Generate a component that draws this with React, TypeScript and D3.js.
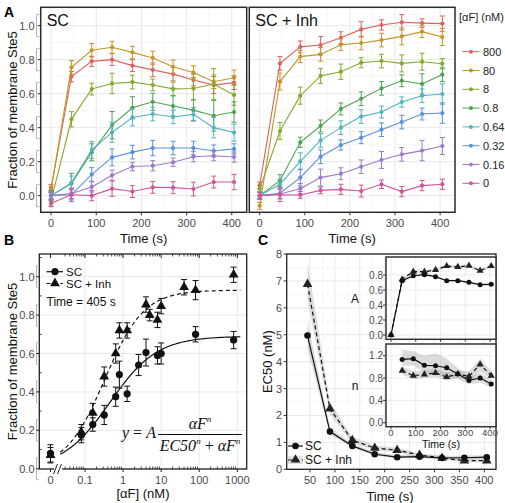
import React from 'react';
import * as d3 from 'd3';

const FONT = "'Liberation Sans', Arial, Helvetica, sans-serif";
const SERIF = "'Liberation Serif', 'Times New Roman', serif";

// ---------- Panel A data ----------
const TIMES = [0, 45, 90, 135, 180, 225, 270, 315, 360, 405];
const DOSE_LABELS = ['800', '80', '8', '0.8', '0.64', '0.32', '0.16', '0'];
const DOSE_COLORS = ['#DB625E', '#C4962A', '#86A92C', '#4EA353', '#52B2BE', '#5A90DA', '#9B7BC9', '#CF559A'];

// SC facet
const SC_800 = [0.045, 0.70, 0.79, 0.80, 0.765, 0.74, 0.715, 0.68, 0.65, 0.665];
const SC_80 = [0.035, 0.755, 0.855, 0.873, 0.843, 0.81, 0.758, 0.724, 0.67, 0.694];
const SC_8 = [-0.03, 0.449, 0.627, 0.66, 0.668, 0.651, 0.628, 0.63, 0.657, 0.592];
const SC_0_8 = [0, 0.071, 0.255, 0.415, 0.517, 0.552, 0.527, 0.503, 0.47, 0.492];
const SC_0_64 = [0, 0.075, 0.269, 0.372, 0.46, 0.48, 0.463, 0.478, 0.40, 0.371];
const SC_0_32 = [0, 0.005, 0.125, 0.225, 0.256, 0.28, 0.28, 0.28, 0.263, 0.275];
const SC_0_16 = [0, 0.013, 0.051, 0.12, 0.171, 0.176, 0.196, 0.229, 0.235, 0.227];
const SC_0 = [-0.045, 0.005, 0.0, 0.041, 0.024, 0.049, 0.047, 0.039, 0.08, 0.08];

const SC_800_ERR = [0.02, 0.03, 0.03, 0.035, 0.035, 0.04, 0.04, 0.035, 0.05, 0.04];
const SC_80_ERR = [0.02, 0.04, 0.04, 0.035, 0.035, 0.04, 0.04, 0.04, 0.04, 0.045];
const SC_8_ERR = [0.03, 0.045, 0.035, 0.06, 0.04, 0.035, 0.04, 0.065, 0.09, 0.06];
const SC_0_8_ERR = [0.03, 0.06, 0.05, 0.08, 0.065, 0.05, 0.06, 0.06, 0.09, 0.06];
const SC_0_64_ERR = [0.02, 0.04, 0.05, 0.06, 0.05, 0.04, 0.04, 0.04, 0.06, 0.05];
const SC_0_32_ERR = [0.02, 0.04, 0.04, 0.05, 0.04, 0.045, 0.04, 0.04, 0.035, 0.03];
const SC_0_16_ERR = [0.02, 0.03, 0.03, 0.03, 0.025, 0.03, 0.025, 0.03, 0.03, 0.03];
const SC_0_ERR = [0.02, 0.03, 0.03, 0.045, 0.035, 0.035, 0.035, 0.04, 0.035, 0.045];

// SC + Inh facet
const INH_800 = [0.06, 0.778, 0.875, 0.886, 0.929, 0.978, 1.004, 1.02, 1.015, 1.012];
const INH_80 = [-0.06, 0.671, 0.818, 0.831, 0.888, 0.898, 0.915, 0.937, 0.965, 0.933];
const INH_8 = [0.04, 0.38, 0.588, 0.704, 0.729, 0.782, 0.792, 0.778, 0.788, 0.776];
const INH_0_8 = [0, 0.088, 0.314, 0.41, 0.51, 0.57, 0.631, 0.676, 0.657, 0.712];
const INH_0_64 = [0, 0.067, 0.202, 0.325, 0.40, 0.465, 0.492, 0.551, 0.588, 0.598];
const INH_0_32 = [0, 0.014, 0.106, 0.229, 0.298, 0.341, 0.388, 0.433, 0.48, 0.486];
const INH_0_16 = [0, 0.01, 0.041, 0.106, 0.129, 0.17, 0.21, 0.243, 0.265, 0.292];
const INH_0 = [0, 0.005, 0.004, 0.031, 0.037, 0.027, 0.067, 0.024, 0.059, 0.067];

const INH_800_ERR = [0.02, 0.04, 0.035, 0.05, 0.035, 0.045, 0.03, 0.045, 0.025, 0.045];
const INH_80_ERR = [0.02, 0.05, 0.035, 0.04, 0.035, 0.04, 0.04, 0.05, 0.035, 0.05];
const INH_8_ERR = [0.02, 0.05, 0.05, 0.045, 0.045, 0.03, 0.04, 0.05, 0.05, 0.03];
const INH_0_8_ERR = [0.02, 0.035, 0.03, 0.035, 0.035, 0.04, 0.04, 0.035, 0.06, 0.04];
const INH_0_64_ERR = [0.02, 0.03, 0.05, 0.04, 0.04, 0.04, 0.035, 0.03, 0.04, 0.06];
const INH_0_32_ERR = [0.02, 0.03, 0.05, 0.04, 0.03, 0.035, 0.04, 0.04, 0.035, 0.06];
const INH_0_16_ERR = [0.02, 0.03, 0.03, 0.05, 0.035, 0.04, 0.05, 0.04, 0.06, 0.05];
const INH_0_ERR = [0.02, 0.04, 0.02, 0.02, 0.03, 0.035, 0.025, 0.03, 0.03, 0.03];

const A_TICKS_X = [0, 100, 200, 300, 400];
const A_TICKS_Y = [0, 0.2, 0.4, 0.6, 0.8, 1.0];

// ---------- Panel B data ----------
const B_SC_CONC = [0, 0.08, 0.16, 0.32, 0.64, 0.8, 1.28, 2.56, 4, 8, 10, 80, 800];
const B_SC_VAL = [0.08, 0.175, 0.23, 0.28, 0.375, 0.49, 0.39, 0.54, 0.605, 0.59, 0.60, 0.70, 0.67];
const B_SC_ERR = [0.045, 0.04, 0.035, 0.05, 0.05, 0.07, 0.04, 0.055, 0.07, 0.045, 0.055, 0.04, 0.045];
const B_INH_CONC = [0, 0.08, 0.16, 0.32, 0.64, 0.8, 1.28, 4, 5, 8, 10, 40, 80, 800];
const B_INH_VAL = [0.07, 0.19, 0.29, 0.48, 0.60, 0.72, 0.72, 0.855, 0.80, 0.775, 0.847, 0.945, 0.93, 1.01];
const B_INH_ERR = [0.04, 0.04, 0.05, 0.05, 0.05, 0.04, 0.04, 0.04, 0.03, 0.04, 0.04, 0.04, 0.05, 0.04];
// Hill fit parameters (A, EC50, n) at 405 s
const FIT_SC = [0.69, 0.45, 0.7];
const FIT_INH = [0.93, 0.33, 0.85];
const B_TICKS_X = [0.1, 1, 10, 100, 1000];
const B_TICK_LABELS_X = ['0.1', '1', '10', '100', '1000'];
const B_TICKS_Y = [0, 0.2, 0.4, 0.6, 0.8, 1.0];

// ---------- Panel C data ----------
const C_TIMES = [45, 90, 135, 180, 225, 270, 315, 360, 405];
const EC50_SC = [4.97, 1.4, 0.87, 0.56, 0.45, 0.47, 0.42, 0.43, 0.45];
const EC50_SC_LO = [4.5, 1.28, 0.8, 0.5, 0.4, 0.41, 0.37, 0.37, 0.38];
const EC50_SC_HI = [5.5, 1.55, 0.95, 0.63, 0.52, 0.55, 0.48, 0.5, 0.52];
const EC50_INH = [6.88, 2.25, 1.08, 0.79, 0.71, 0.53, 0.42, 0.32, 0.32];
const EC50_INH_LO = [6.3, 2.05, 0.97, 0.71, 0.63, 0.46, 0.36, 0.26, 0.26];
const EC50_INH_HI = [7.7, 2.5, 1.2, 0.88, 0.8, 0.6, 0.5, 0.4, 0.4];
const C_TICKS_X = [50, 100, 150, 200, 250, 300, 350, 400];
const C_TICKS_Y = [0, 1, 2, 3, 4, 5, 6, 7, 8];

const A_SC = [0, 0.724, 0.79, 0.804, 0.778, 0.724, 0.724, 0.702, 0.671, 0.676];
const A_SC_LO = [0, 0.71, 0.775, 0.79, 0.765, 0.712, 0.712, 0.69, 0.66, 0.664];
const A_SC_HI = [0, 0.738, 0.805, 0.818, 0.791, 0.736, 0.736, 0.714, 0.682, 0.688];
const A_INH = [0, 0.742, 0.844, 0.844, 0.867, 0.92, 0.907, 0.924, 0.858, 0.92];
const A_INH_LO = [0, 0.725, 0.825, 0.825, 0.848, 0.9, 0.888, 0.905, 0.838, 0.9];
const A_INH_HI = [0, 0.76, 0.863, 0.863, 0.886, 0.94, 0.926, 0.943, 0.878, 0.94];

const N_SC = [1.134, 1.146, 1.027, 1.02, 0.985, 0.872, 0.758, 0.80, 0.693];
const N_SC_LO = [1.02, 1.03, 0.9, 0.86, 0.83, 0.78, 0.69, 0.72, 0.63];
const N_SC_HI = [1.3, 1.28, 1.2, 1.24, 1.15, 0.98, 0.83, 0.89, 0.76];
const N_INH = [0.931, 0.842, 0.866, 0.89, 0.818, 0.872, 0.83, 1.045, 0.842];
const N_INH_LO = [0.86, 0.78, 0.8, 0.82, 0.75, 0.8, 0.74, 0.92, 0.78];
const N_INH_HI = [1.0, 0.92, 0.94, 0.96, 0.9, 0.94, 0.92, 1.15, 0.92];

const INSET_TICKS_X = [0, 100, 200, 300, 400];
const INSET_A_TICKS_Y = [0, 0.2, 0.4, 0.6, 0.8];
const INSET_N_TICKS_Y = [0, 0.4, 0.8, 1.2];

const SC_SERIES = [SC_800, SC_80, SC_8, SC_0_8, SC_0_64, SC_0_32, SC_0_16, SC_0];
const SC_ERRS = [SC_800_ERR, SC_80_ERR, SC_8_ERR, SC_0_8_ERR, SC_0_64_ERR, SC_0_32_ERR, SC_0_16_ERR, SC_0_ERR];
const INH_SERIES = [INH_800, INH_80, INH_8, INH_0_8, INH_0_64, INH_0_32, INH_0_16, INH_0];
const INH_ERRS = [INH_800_ERR, INH_80_ERR, INH_8_ERR, INH_0_8_ERR, INH_0_64_ERR, INH_0_32_ERR, INH_0_16_ERR, INH_0_ERR];

const GRID_MAJOR = '#e6e6e6';
const GRID_MINOR = '#f2f2f2';
const AXIS_TEXT = '#4a4a4a';

const fmt1 = (v: number) => v.toFixed(1);

function tri(size: number) {
  return d3.symbol(d3.symbolTriangle, size)() as string;
}

// ---------------- Panel A facet ----------------
function FacetA(props: { x0: number; x1: number; title: string; series: number[][]; errs: number[][]; showY: boolean }) {
  const { x0, x1, title, series, errs, showY } = props;
  const top = 7.3, bottom = 212.3;
  const x = d3.scaleLinear().domain([-23, 433]).range([x0, x1]);
  const y = d3.scaleLinear().domain([-0.098, 1.108]).range([bottom, top]);
  const line = d3.line<number>().x((_, i) => x(TIMES[i])).y((d) => y(d));
  const minorX = [50, 150, 250, 350];
  const minorY = [0.1, 0.3, 0.5, 0.7, 0.9];
  return (
    <g>
      <rect x={x0} y={top} width={x1 - x0} height={bottom - top} fill="#fff" />
      {minorX.map((t) => <line key={'mx' + t} x1={x(t)} x2={x(t)} y1={top} y2={bottom} stroke={GRID_MINOR} strokeWidth={0.6} />)}
      {minorY.map((t) => <line key={'my' + t} x1={x0} x2={x1} y1={y(t)} y2={y(t)} stroke={GRID_MINOR} strokeWidth={0.6} />)}
      {A_TICKS_X.map((t) => <line key={'gx' + t} x1={x(t)} x2={x(t)} y1={top} y2={bottom} stroke={GRID_MAJOR} strokeWidth={0.9} />)}
      {A_TICKS_Y.map((t) => <line key={'gy' + t} x1={x0} x2={x1} y1={y(t)} y2={y(t)} stroke={GRID_MAJOR} strokeWidth={0.9} />)}
      {series.map((s, k) => (
        <g key={'s' + k}>
          <path d={line(s) as string} fill="none" stroke={DOSE_COLORS[k]} strokeWidth={1.1} />
          {s.map((v, i) => {
            const e = errs[k][i];
            const cx = x(TIMES[i]);
            return (
              <g key={i}>
                <line x1={cx} x2={cx} y1={y(v - e)} y2={y(v + e)} stroke={DOSE_COLORS[k]} strokeWidth={1} />
                <line x1={cx - 2.5} x2={cx + 2.5} y1={y(v - e)} y2={y(v - e)} stroke={DOSE_COLORS[k]} strokeWidth={1} />
                <line x1={cx - 2.5} x2={cx + 2.5} y1={y(v + e)} y2={y(v + e)} stroke={DOSE_COLORS[k]} strokeWidth={1} />
                <circle cx={cx} cy={y(v)} r={2.1} fill={DOSE_COLORS[k]} />
              </g>
            );
          })}
        </g>
      ))}
      <text x={x0 + 6} y={26} fontSize={16} fontFamily={FONT} fill="#111">{title}</text>
      <rect x={x0} y={top} width={x1 - x0} height={bottom - top} fill="none" stroke="#2b2b2b" strokeWidth={1.5} />
      {A_TICKS_X.map((t) => (
        <g key={'tx' + t}>
          <line x1={x(t)} x2={x(t)} y1={bottom} y2={bottom + 3} stroke="#333" strokeWidth={1} />
          <text x={x(t)} y={bottom + 15} fontSize={11} textAnchor="middle" fontFamily={FONT} fill={AXIS_TEXT}>{t}</text>
        </g>
      ))}
      <text x={(x0 + x1) / 2} y={243} fontSize={13} textAnchor="middle" fontFamily={FONT} fill="#111">Time (s)</text>
      {showY && A_TICKS_Y.map((t) => (
        <g key={'ty' + t}>
          <line x1={36.5} x2={36.5} y1={y(t) - 11} y2={y(t) + 11} stroke="#b5b5b5" strokeWidth={1} />
          <line x1={36.5} x2={39.5} y1={y(t) - 11} y2={y(t) - 11} stroke="#b5b5b5" strokeWidth={1} />
          <line x1={36.5} x2={39.5} y1={y(t) + 11} y2={y(t) + 11} stroke="#b5b5b5" strokeWidth={1} />
          <line x1={x0 - 3} x2={x0} y1={y(t)} y2={y(t)} stroke="#333" strokeWidth={1} />
          <text x={34.5} y={y(t) + 4} fontSize={11} textAnchor="end" fontFamily={FONT} fill={AXIS_TEXT}>{fmt1(t)}</text>
        </g>
      ))}
    </g>
  );
}

function LegendA() {
  const y0 = 51.7, dy = 18.8;
  return (
    <g fontFamily={FONT}>
      <text x={459} y={21} fontSize={11} fill="#222">[αF] (nM)</text>
      {DOSE_LABELS.map((lab, k) => (
        <g key={lab}>
          <line x1={462.5} x2={479.5} y1={y0 + k * dy} y2={y0 + k * dy} stroke={DOSE_COLORS[k]} strokeWidth={1} />
          <circle cx={471} cy={y0 + k * dy} r={2} fill={DOSE_COLORS[k]} />
          <text x={483} y={y0 + k * dy + 4} fontSize={11} fill="#222">{lab}</text>
        </g>
      ))}
    </g>
  );
}

// ---------------- Panel B ----------------
function PanelB() {
  const left = 39.3, right = 246.7, top = 254, bottom = 469;
  const xl = d3.scaleLog().domain([0.1, 1000]).range([85, 237.3]);
  const xZero = 50.5;
  const xp = (c: number) => (c === 0 ? xZero : xl(c));
  const y = d3.scaleLinear().domain([0, 1]).range([468.7, 276.7]);
  const hill = (p: number[]) => (c: number) => (p[0] * Math.pow(c, p[2])) / (Math.pow(p[1], p[2]) + Math.pow(c, p[2]));
  const fitX = d3.range(0, 101).map((i) => Math.pow(10, -1.65 + (i / 100) * (3.08 + 1.65)));
  const fitLine = (p: number[]) => d3.line<number>().x((c) => xl(c)).y((c) => y(hill(p)(c)))(fitX) as string;
  const minorLog: number[] = [];
  for (let d = -2; d <= 2; d++) for (let k = 2; k <= 9; k++) {
    const v = k * Math.pow(10, d);
    if (xl(v) > 64 && xl(v) < right) minorLog.push(v);
  }
  const minorY = [0.1, 0.3, 0.5, 0.7, 0.9, 1.1];
  const errBar = (cx: number, v: number, e: number, key: string) => (
    <g key={key}>
      <line x1={cx} x2={cx} y1={y(v - e)} y2={y(v + e)} stroke="#111" strokeWidth={1} />
      <line x1={cx - 3} x2={cx + 3} y1={y(v - e)} y2={y(v - e)} stroke="#111" strokeWidth={1} />
      <line x1={cx - 3} x2={cx + 3} y1={y(v + e)} y2={y(v + e)} stroke="#111" strokeWidth={1} />
    </g>
  );
  return (
    <g fontFamily={FONT}>
      <rect x={left} y={top} width={right - left} height={bottom - top} fill="#fff" />
      {B_TICKS_X.map((t) => <line key={'gx' + t} x1={xl(t)} x2={xl(t)} y1={top} y2={bottom} stroke={GRID_MAJOR} strokeWidth={0.9} />)}
      {B_TICKS_Y.map((t) => <line key={'gy' + t} x1={left} x2={right} y1={y(t)} y2={y(t)} stroke={GRID_MAJOR} strokeWidth={0.9} />)}
      <path d={fitLine(FIT_INH)} fill="none" stroke="#111" strokeWidth={1.2} strokeDasharray="4,3" />
      <path d={fitLine(FIT_SC)} fill="none" stroke="#111" strokeWidth={1.2} />
      {B_INH_CONC.map((c, i) => errBar(xp(c), B_INH_VAL[i], B_INH_ERR[i], 'ei' + i))}
      {B_INH_CONC.map((c, i) => (
        <path key={'ti' + i} d={tri(42)} transform={`translate(${xp(c)},${y(B_INH_VAL[i])})`} fill="#111" />
      ))}
      {B_SC_CONC.map((c, i) => errBar(xp(c), B_SC_VAL[i], B_SC_ERR[i], 'es' + i))}
      {B_SC_CONC.map((c, i) => (
        <circle key={'cs' + i} cx={xp(c)} cy={y(B_SC_VAL[i])} r={3.6} fill="#111" />
      ))}
      <rect x={left} y={top} width={right - left} height={bottom - top} fill="none" stroke="#222" strokeWidth={1.3} />
      {minorLog.map((v) => (
        <g key={'ml' + v}>
          <line x1={xl(v)} x2={xl(v)} y1={bottom} y2={bottom - 2.5} stroke="#222" strokeWidth={0.8} />
          <line x1={xl(v)} x2={xl(v)} y1={top} y2={top + 2.5} stroke="#222" strokeWidth={0.8} />
        </g>
      ))}
      {[0, ...B_TICKS_X].map((t) => (
        <g key={'mt' + t}>
          <line x1={xp(t)} x2={xp(t)} y1={bottom} y2={bottom + 3} stroke="#222" strokeWidth={1} />
          <line x1={xp(t)} x2={xp(t)} y1={top} y2={top + 4} stroke="#222" strokeWidth={1} />
        </g>
      ))}
      {minorY.map((t) => (
        <line key={'mny' + t} x1={left} x2={left + 2.5} y1={y(t)} y2={y(t)} stroke="#222" strokeWidth={0.8} />
      ))}
      <rect x={54} y={466} width={8} height={6} fill="#fff" />
      <line x1={53.5} y1={474} x2={57.5} y2={464} stroke="#222" strokeWidth={1} />
      <line x1={57.5} y1={474} x2={61.5} y2={464} stroke="#222" strokeWidth={1} />
      <text x={xZero} y={484} fontSize={11} textAnchor="middle" fill={AXIS_TEXT}>0</text>
      {B_TICKS_X.map((t, i) => (
        <text key={'lx' + t} x={xl(t)} y={484} fontSize={11} textAnchor="middle" fill={AXIS_TEXT}>{B_TICK_LABELS_X[i]}</text>
      ))}
      {B_TICKS_Y.map((t) => (
        <g key={'ly' + t}>
          <line x1={36.5} x2={36.5} y1={y(t) - 11} y2={y(t) + 11} stroke="#b5b5b5" strokeWidth={1} />
          <line x1={36.5} x2={39} y1={y(t) - 11} y2={y(t) - 11} stroke="#b5b5b5" strokeWidth={1} />
          <line x1={36.5} x2={39} y1={y(t) + 11} y2={y(t) + 11} stroke="#b5b5b5" strokeWidth={1} />
          <line x1={left - 3} x2={left} y1={y(t)} y2={y(t)} stroke="#222" strokeWidth={1} />
          <text x={34.5} y={y(t) + 4} fontSize={11} textAnchor="end" fill={AXIS_TEXT}>{fmt1(t)}</text>
        </g>
      ))}
      <text x={143} y={498} fontSize={13} textAnchor="middle" fill="#111">[αF] (nM)</text>
      <line x1={46.5} x2={63} y1={271.7} y2={271.7} stroke="#111" strokeWidth={1.2} />
      <circle cx={55} cy={271.7} r={3.6} fill="#111" />
      <text x={66} y={275.8} fontSize={11.5} fill="#111">SC</text>
      <line x1={46.5} x2={63} y1={283.5} y2={283.5} stroke="#111" strokeWidth={1.2} strokeDasharray="4,3" />
      <path d={tri(42)} transform="translate(55,283.3)" fill="#111" />
      <text x={66} y={287.6} fontSize={11.5} fill="#111">SC + Inh</text>
      <text x={46.5} y={305.5} fontSize={12} fill="#111">Time = 405 s</text>
      <text x={122} y={438} fontSize={16} fontFamily={SERIF} fill="#111">
        <tspan fontStyle="italic">y</tspan><tspan> = </tspan><tspan fontStyle="italic">A</tspan>
      </text>
      <text x={200} y={429} fontSize={16} fontFamily={SERIF} fontStyle="italic" textAnchor="middle" fill="#111">
        αF<tspan fontSize={9} dy={-7}>n</tspan>
      </text>
      <line x1={158} x2={242} y1={434.5} y2={434.5} stroke="#111" strokeWidth={1} />
      <text x={200} y={451} fontSize={16} fontFamily={SERIF} fontStyle="italic" textAnchor="middle" fill="#111">
        EC50<tspan fontSize={9} dy={-7}>n</tspan><tspan dy={7} fontStyle="normal"> + </tspan>αF<tspan fontSize={9} dy={-7}>n</tspan>
      </text>
    </g>
  );
}

// ---------------- Panel C ----------------
function Band(props: { xs: number[]; lo: number[]; hi: number[]; x: (v: number) => number; y: (v: number) => number }) {
  const { xs, lo, hi, x, y } = props;
  const area = d3.area<number>().x((_, i) => x(xs[i])).y0((_, i) => y(lo[i])).y1((_, i) => y(hi[i]));
  return <path d={area(xs) as string} fill="#9a9a9a" fillOpacity={0.35} stroke="none" />;
}

function SeriesC(props: { xs: number[]; vals: number[]; x: (v: number) => number; y: (v: number) => number; dashed: boolean; r: number; ts: number }) {
  const { xs, vals, x, y, dashed, r, ts } = props;
  const line = d3.line<number>().x((_, i) => x(xs[i])).y((d) => y(d));
  return (
    <g>
      <path d={line(vals) as string} fill="none" stroke="#111" strokeWidth={1.2} strokeDasharray={dashed ? '4,3' : undefined} />
      {vals.map((v, i) =>
        dashed ? (
          <path key={i} d={tri(ts)} transform={`translate(${x(xs[i])},${y(v)})`} fill="#222" />
        ) : (
          <circle key={i} cx={x(xs[i])} cy={y(v)} r={r} fill="#111" />
        )
      )}
    </g>
  );
}

function Inset(props: { top: number; bottom: number; yDom: number[]; yRange: number[]; ticks: number[]; label: string; showX: boolean; times: number[]; sc: number[]; scLo: number[]; scHi: number[]; inh: number[]; inhLo: number[]; inhHi: number[] }) {
  const p = props;
  const left = 386, right = 496;
  const x = d3.scaleLinear().domain([0, 400]).range([391, 490]);
  const y = d3.scaleLinear().domain(p.yDom).range(p.yRange);
  return (
    <g fontFamily={FONT}>
      <rect x={left} y={p.top} width={right - left} height={p.bottom - p.top} fill="#fff" />
      {INSET_TICKS_X.map((t) => <line key={'gx' + t} x1={x(t)} x2={x(t)} y1={p.top} y2={p.bottom} stroke={GRID_MAJOR} strokeWidth={0.8} />)}
      {p.ticks.map((t) => <line key={'gy' + t} x1={left} x2={right} y1={y(t)} y2={y(t)} stroke={GRID_MAJOR} strokeWidth={0.8} />)}
      <Band xs={p.times} lo={p.scLo} hi={p.scHi} x={x} y={y} />
      <Band xs={p.times} lo={p.inhLo} hi={p.inhHi} x={x} y={y} />
      <SeriesC xs={p.times} vals={p.inh} x={x} y={y} dashed={true} r={2.5} ts={22} />
      <SeriesC xs={p.times} vals={p.sc} x={x} y={y} dashed={false} r={2.5} ts={22} />
      <rect x={left} y={p.top} width={right - left} height={p.bottom - p.top} fill="none" stroke="#333" strokeWidth={1.5} />
      {p.ticks.map((t) => (
        <g key={'ty' + t}>
          <line x1={left - 3} x2={left} y1={y(t)} y2={y(t)} stroke="#333" strokeWidth={1} />
          <text x={383} y={y(t) + 3.5} fontSize={10} textAnchor="end" fill={AXIS_TEXT}>{fmt1(t)}</text>
        </g>
      ))}
      {INSET_TICKS_X.map((t) => (
        <line key={'tx' + t} x1={x(t)} x2={x(t)} y1={p.bottom} y2={p.bottom + 2.5} stroke="#333" strokeWidth={1} />
      ))}
      {p.showX && INSET_TICKS_X.map((t) => (
        <text key={'lx' + t} x={x(t)} y={p.bottom + 9.6} fontSize={9.5} textAnchor="middle" fill={AXIS_TEXT}>{t}</text>
      ))}
      {p.showX && <text x={441} y={447.5} fontSize={10.5} textAnchor="middle" fill="#111">Time (s)</text>}
      <text x={355} y={(p.top + p.bottom) / 2 + 5} fontSize={12} textAnchor="middle" fill="#111">{p.label}</text>
    </g>
  );
}

function PanelC() {
  const left = 286.7, right = 496, top = 254, bottom = 469.3;
  const x = d3.scaleLinear().domain([50, 400]).range([310, 484.3]);
  const y = d3.scaleLinear().domain([0, 8]).range([bottom, top]);
  const minorX = [75, 125, 175, 225, 275, 325, 375, 425].filter((v) => x(v) < right);
  const minorY = [0.5, 1.5, 2.5, 3.5, 4.5, 5.5, 6.5, 7.5];
  return (
    <g fontFamily={FONT}>
      <rect x={left} y={top} width={right - left} height={bottom - top} fill="#fff" />
      {minorX.map((t) => <line key={'mx' + t} x1={x(t)} x2={x(t)} y1={top} y2={bottom} stroke={GRID_MINOR} strokeWidth={0.6} />)}
      {minorY.map((t) => <line key={'my' + t} x1={left} x2={right} y1={y(t)} y2={y(t)} stroke={GRID_MINOR} strokeWidth={0.6} />)}
      {C_TICKS_X.map((t) => <line key={'gx' + t} x1={x(t)} x2={x(t)} y1={top} y2={bottom} stroke={GRID_MAJOR} strokeWidth={0.9} />)}
      {C_TICKS_Y.map((t) => <line key={'gy' + t} x1={left} x2={right} y1={y(t)} y2={y(t)} stroke={GRID_MAJOR} strokeWidth={0.9} />)}
      <Band xs={C_TIMES} lo={EC50_SC_LO} hi={EC50_SC_HI} x={x} y={y} />
      <Band xs={C_TIMES} lo={EC50_INH_LO} hi={EC50_INH_HI} x={x} y={y} />
      <SeriesC xs={C_TIMES} vals={EC50_INH} x={x} y={y} dashed={true} r={3.3} ts={40} />
      <SeriesC xs={C_TIMES} vals={EC50_SC} x={x} y={y} dashed={false} r={3.3} ts={40} />
      <rect x={left} y={top} width={right - left} height={bottom - top} fill="none" stroke="#222" strokeWidth={1.3} />
      {C_TICKS_X.map((t) => (
        <g key={'tx' + t}>
          <line x1={x(t)} x2={x(t)} y1={bottom} y2={bottom + 3} stroke="#333" strokeWidth={1} />
          <text x={x(t)} y={bottom + 14.5} fontSize={11} textAnchor="middle" fill={AXIS_TEXT}>{t}</text>
        </g>
      ))}
      {C_TICKS_Y.map((t) => (
        <g key={'ty' + t}>
          <line x1={left - 3} x2={left} y1={y(t)} y2={y(t)} stroke="#333" strokeWidth={1} />
          <text x={282} y={y(t) + 4} fontSize={11} textAnchor="end" fill={AXIS_TEXT}>{t}</text>
        </g>
      ))}
      <text x={390} y={501} fontSize={13} textAnchor="middle" fill="#111">Time (s)</text>
      <text transform={`translate(271.5,${(top + bottom) / 2}) rotate(-90)`} fontSize={13} textAnchor="middle" fill="#111">EC50 (nM)</text>
      <line x1={288} x2={303} y1={446} y2={446} stroke="#111" strokeWidth={1.2} />
      <circle cx={295.5} cy={446} r={3.3} fill="#111" />
      <text x={305} y={450.2} fontSize={12} fill="#111">SC</text>
      <rect x={288} y={456} width={15} height={8} fill="#9a9a9a" fillOpacity={0.3} />
      <line x1={288} x2={303} y1={460} y2={460} stroke="#111" strokeWidth={1.2} strokeDasharray="4,3" />
      <path d={tri(40)} transform="translate(295.5,459.8)" fill="#222" />
      <text x={305} y={464.2} fontSize={12} fill="#111">SC + Inh</text>
      <Inset top={257} bottom={339.3} yDom={[0, 0.8]} yRange={[335, 275]} ticks={INSET_A_TICKS_Y} label="A" showX={false}
        times={TIMES} sc={A_SC} scLo={A_SC_LO} scHi={A_SC_HI} inh={A_INH} inhLo={A_INH_LO} inhHi={A_INH_HI} />
      <Inset top={344} bottom={426.7} yDom={[0, 1.2]} yRange={[422.7, 355.7]} ticks={INSET_N_TICKS_Y} label="n" showX={true}
        times={C_TIMES} sc={N_SC} scLo={N_SC_LO} scHi={N_SC_HI} inh={N_INH} inhLo={N_INH_LO} inhHi={N_INH_HI} />
    </g>
  );
}

export default function App() {
  return (
    <svg width={505} height={503} viewBox="0 0 505 503" style={{ position: 'absolute', left: 0, top: 0, background: '#fff' }} fontFamily={FONT}>
      <rect x={0} y={0} width={505} height={503} fill="#fff" />
      <FacetA x0={40.7} x1={246.7} title="SC" series={SC_SERIES} errs={SC_ERRS} showY={true} />
      <FacetA x0={249.3} x1={455} title="SC + Inh" series={INH_SERIES} errs={INH_ERRS} showY={false} />
      <LegendA />
      <text transform="translate(17,110) rotate(-90)" fontSize={13} textAnchor="middle" fill="#111">Fraction of membrane Ste5</text>
      <text x={4} y={17} fontSize={14} fontWeight="bold" fill="#000">A</text>
      <PanelB />
      <text transform="translate(17,361.5) rotate(-90)" fontSize={13} textAnchor="middle" fill="#111">Fraction of membrane Ste5</text>
      <text x={4} y={245} fontSize={14} fontWeight="bold" fill="#000">B</text>
      <PanelC />
      <text x={258} y={245} fontSize={14} fontWeight="bold" fill="#000">C</text>
    </svg>
  );
}
